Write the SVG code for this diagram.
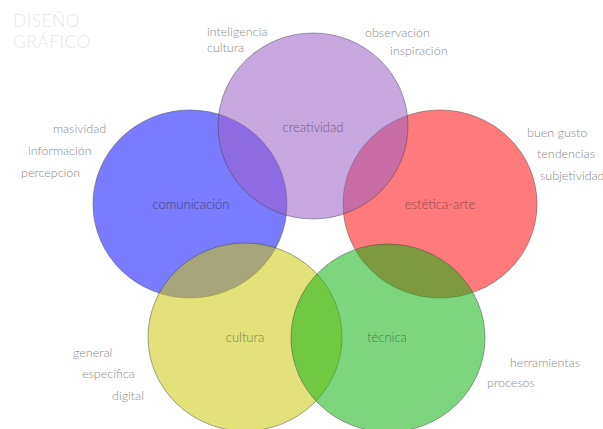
<svg xmlns="http://www.w3.org/2000/svg" width="603" height="429" viewBox="0 0 603 429">
<style>
  .c { stroke: rgba(60,60,60,0.45); stroke-width: 1; }
  .lbl { font-family: Lato, "Liberation Sans", Arial, sans-serif; font-weight: 300; font-size: 12.5px; fill: #8a8a8a; }
  .in { font-family: Lato, "Liberation Sans", Arial, sans-serif; font-weight: 300; font-size: 13px; text-anchor: middle; }
  .title { font-family: Lato, "Liberation Sans", Arial, sans-serif; font-weight: 300; font-size: 17.5px; letter-spacing: 0.4px; fill: #e6e6e6; }
</style>
<rect width="603" height="429" fill="#ffffff"/>
<g id="title">
  <text class="title" x="13" y="27">DISEÑO</text>
  <text class="title" x="13" y="48">GRÁFICO</text>
</g>
<g id="comunicacion">
  <ellipse class="c" cx="190" cy="204" rx="97" ry="94" fill="#0f0fff" fill-opacity="0.55"/>
  <text class="in" x="191" y="209" fill="#40407e">comunicación</text>
  <text class="lbl" x="53" y="133">masividad</text>
  <text class="lbl" x="28" y="155">información</text>
  <text class="lbl" x="21" y="177">percepción</text>
</g>
<g id="estetica">
  <ellipse class="c" cx="440" cy="204" rx="97" ry="94" fill="#ff0f0f" fill-opacity="0.55"/>
  <text class="in" x="440" y="209" fill="#9a4444">estética-arte</text>
  <text class="lbl" x="527" y="137">buen gusto</text>
  <text class="lbl" x="537" y="158">tendencias</text>
  <text class="lbl" x="540" y="180">subjetividad</text>
</g>
<g id="cultura">
  <ellipse class="c" cx="245" cy="337" rx="97" ry="94" fill="#ccca0d" fill-opacity="0.55"/>
  <text class="in" x="245" y="342" fill="#7c7c44">cultura</text>
  <text class="lbl" x="73" y="357">general</text>
  <text class="lbl" x="82" y="378">especifica</text>
  <text class="lbl" x="112" y="400">digital</text>
</g>
<g id="tecnica">
  <ellipse class="c" cx="388" cy="338" rx="97" ry="94" fill="#12b412" fill-opacity="0.55"/>
  <text class="in" x="387" y="342" fill="#447c44">técnica</text>
  <text class="lbl" x="510" y="367">herramientas</text>
  <text class="lbl" x="487" y="387">procesos</text>
</g>
<g id="creatividad">
  <ellipse class="c" cx="313" cy="126" rx="95" ry="93" fill="#9b60c6" fill-opacity="0.55"/>
  <text class="in" x="313" y="132" fill="#6e5e84">creatividad</text>
  <text class="lbl" x="207" y="36">inteligencia</text>
  <text class="lbl" x="207" y="52">cultura</text>
  <text class="lbl" x="365" y="37">observación</text>
  <text class="lbl" x="390" y="55">inspiración</text>
</g>
</svg>
